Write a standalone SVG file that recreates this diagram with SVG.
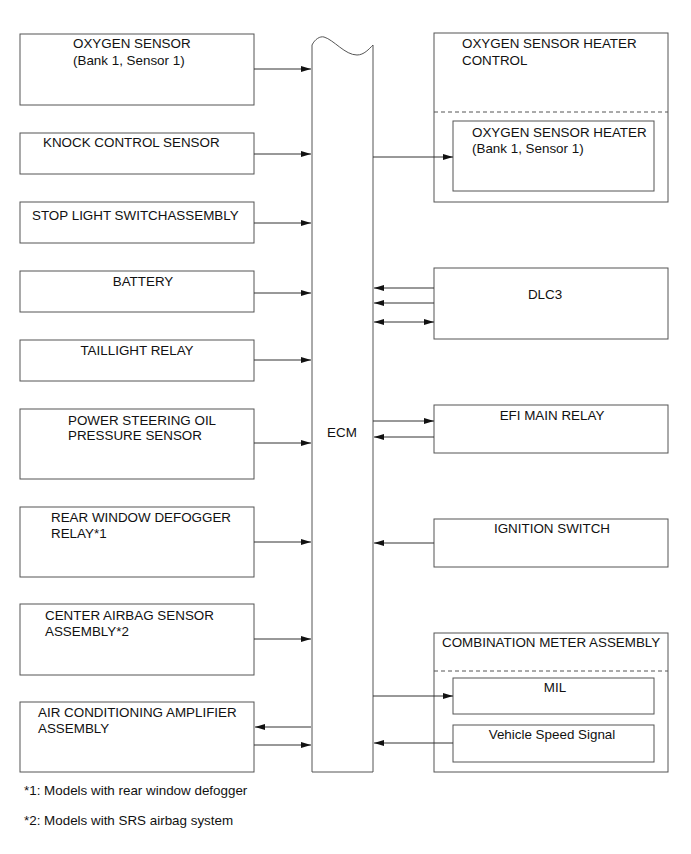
<svg xmlns="http://www.w3.org/2000/svg" width="691" height="854" viewBox="0 0 691 854">
<style>
.box{fill:#fff;stroke:#555;stroke-width:1}
.dash{stroke:#555;stroke-width:1;stroke-dasharray:4,3;fill:none}
.ln{stroke:#333;stroke-width:1;fill:none}
text{font-family:"Liberation Sans",Arial,sans-serif;font-size:13.4px;fill:#111}
.c{text-anchor:middle}
</style>
<defs>
<marker id="ah" viewBox="0 0 10 6" refX="10" refY="3" markerWidth="10" markerHeight="6" markerUnits="userSpaceOnUse" orient="auto-start-reverse">
<path d="M0,0 L10,3 L0,6 z" fill="#111"/>
</marker>
</defs>
<rect width="691" height="854" fill="#fff"/>

<g id="ecm">
<path class="box" d="M312,45 C315,39 320,36 324,37 C334,40 345,55 357,55 C364,55 369,49 373,45 L373,772 L312,772 Z"/>
<text x="342" y="437" class="c">ECM</text>
</g>

<g id="oxygen-sensor"><rect class="box" x="20" y="34" width="234" height="71"/><text x="73" y="48">OXYGEN SENSOR</text><text x="73" y="65">(Bank 1, Sensor 1)</text></g>
<g id="knock"><rect class="box" x="20" y="133" width="234" height="41"/><text x="43" y="147">KNOCK CONTROL SENSOR</text></g>
<g id="stop-light"><rect class="box" x="20" y="202" width="234" height="41"/><text x="32" y="220">STOP LIGHT SWITCHASSEMBLY</text></g>
<g id="battery"><rect class="box" x="20" y="271" width="234" height="41"/><text x="143" y="286" class="c">BATTERY</text></g>
<g id="taillight"><rect class="box" x="20" y="340" width="234" height="41"/><text x="137" y="355" class="c">TAILLIGHT RELAY</text></g>
<g id="power-steering"><rect class="box" x="20" y="409" width="234" height="70"/><text x="68" y="425">POWER STEERING OIL</text><text x="68" y="440">PRESSURE SENSOR</text></g>
<g id="rear-window"><rect class="box" x="20" y="507" width="234" height="70"/><text x="51" y="522">REAR WINDOW DEFOGGER</text><text x="51" y="538">RELAY*1</text></g>
<g id="center-airbag"><rect class="box" x="20" y="604" width="234" height="71"/><text x="45" y="620">CENTER AIRBAG SENSOR</text><text x="45" y="636">ASSEMBLY*2</text></g>
<g id="ac-amp"><rect class="box" x="20" y="702" width="234" height="70"/><text x="38" y="717">AIR CONDITIONING AMPLIFIER</text><text x="38" y="733">ASSEMBLY</text></g>

<g id="o2-heater-control"><rect class="box" x="434" y="33" width="234" height="169"/><text x="462" y="48">OXYGEN SENSOR HEATER</text><text x="462" y="65">CONTROL</text><line class="dash" x1="434" y1="112" x2="668" y2="112"/></g>
<g id="o2-heater"><rect class="box" x="453" y="121" width="201" height="70"/><text x="472" y="137">OXYGEN SENSOR HEATER</text><text x="472" y="153">(Bank 1, Sensor 1)</text></g>
<g id="dlc3"><rect class="box" x="434" y="268" width="234" height="71"/><text x="545" y="299" class="c">DLC3</text></g>
<g id="efi"><rect class="box" x="434" y="405" width="234" height="48"/><text x="552" y="420" class="c">EFI MAIN RELAY</text></g>
<g id="ignition"><rect class="box" x="434" y="519" width="234" height="48"/><text x="552" y="533" class="c">IGNITION SWITCH</text></g>
<g id="combination-meter"><rect class="box" x="434" y="633" width="234" height="139"/><text x="442" y="647">COMBINATION METER ASSEMBLY</text><line class="dash" x1="434" y1="671" x2="668" y2="671"/></g>
<g id="mil"><rect class="box" x="453" y="678" width="201" height="36"/><text x="555" y="692" class="c">MIL</text></g>
<g id="vss"><rect class="box" x="453" y="725" width="201" height="37"/><text x="552" y="739" class="c">Vehicle Speed Signal</text></g>

<g id="connectors">
<line class="ln" x1="254" y1="69" x2="311" y2="69" marker-end="url(#ah)"/>
<line class="ln" x1="254" y1="154" x2="311" y2="154" marker-end="url(#ah)"/>
<line class="ln" x1="254" y1="223" x2="311" y2="223" marker-end="url(#ah)"/>
<line class="ln" x1="254" y1="293" x2="311" y2="293" marker-end="url(#ah)"/>
<line class="ln" x1="254" y1="360" x2="311" y2="360" marker-end="url(#ah)"/>
<line class="ln" x1="254" y1="443" x2="311" y2="443" marker-end="url(#ah)"/>
<line class="ln" x1="254" y1="542" x2="311" y2="542" marker-end="url(#ah)"/>
<line class="ln" x1="254" y1="639" x2="311" y2="639" marker-end="url(#ah)"/>
<line class="ln" x1="311" y1="727" x2="255" y2="727" marker-end="url(#ah)"/>
<line class="ln" x1="254" y1="745" x2="311" y2="745" marker-end="url(#ah)"/>
<line class="ln" x1="373" y1="157" x2="453" y2="157" marker-end="url(#ah)"/>
<line class="ln" x1="434" y1="288" x2="374" y2="288" marker-end="url(#ah)"/>
<line class="ln" x1="434" y1="303" x2="374" y2="303" marker-end="url(#ah)"/>
<line class="ln" x1="374" y1="322" x2="434" y2="322" marker-start="url(#ah)" marker-end="url(#ah)"/>
<line class="ln" x1="373" y1="421" x2="434" y2="421" marker-end="url(#ah)"/>
<line class="ln" x1="434" y1="437" x2="374" y2="437" marker-end="url(#ah)"/>
<line class="ln" x1="434" y1="543" x2="374" y2="543" marker-end="url(#ah)"/>
<line class="ln" x1="373" y1="696" x2="453" y2="696" marker-end="url(#ah)"/>
<line class="ln" x1="453" y1="743" x2="374" y2="743" marker-end="url(#ah)"/>
</g>

<text x="24" y="795">*1: Models with rear window defogger</text>
<text x="24" y="825">*2: Models with SRS airbag system</text>
</svg>
